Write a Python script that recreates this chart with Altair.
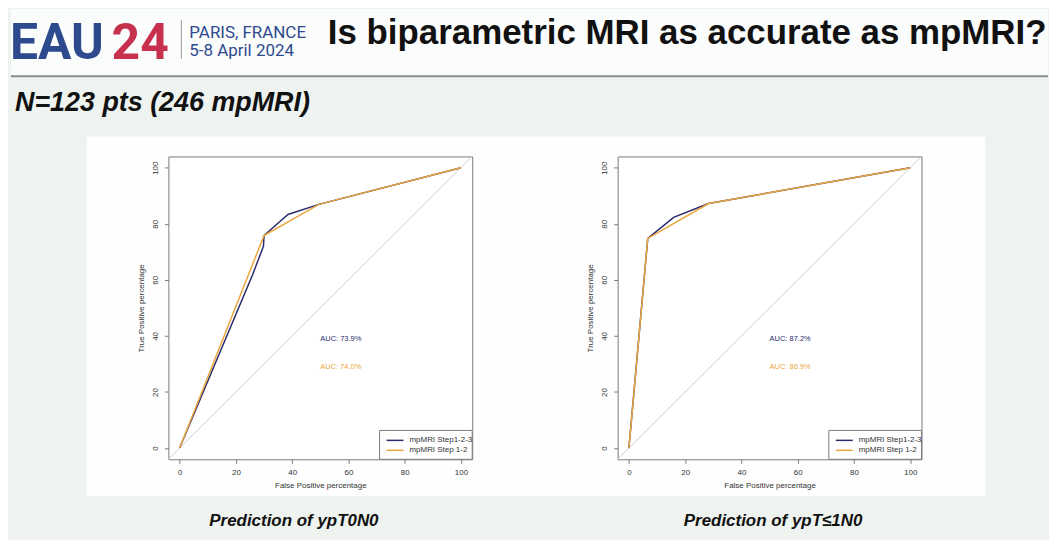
import altair as alt
import pandas as pd

# ---------------- data ----------------
S123 = "mpMRI Step1-2-3"
S12 = "mpMRI Step 1-2"

# Left panel: Prediction of ypT0N0
left_s123_fpr = [0, 26, 29.8, 30, 38.5, 49.5, 100]
left_s123_tpr = [0, 62, 72, 75.8, 83.3, 86.9, 100]
left_s12_fpr = [0, 30, 49.5, 100]
left_s12_tpr = [0, 75.8, 86.9, 100]
left_auc = ["AUC: 73.9%", "AUC: 74.0%"]

# Right panel: Prediction of ypT<=1N0
right_s123_fpr = [0, 6.7, 15.9, 28.3, 100]
right_s123_tpr = [0, 74.8, 82.3, 87.2, 100]
right_s12_fpr = [0, 6.7, 28.3, 100]
right_s12_tpr = [0, 74.8, 87.2, 100]
right_auc = ["AUC: 87.2%", "AUC: 86.9%"]

auc_x = [50, 50]
auc_y = [39, 29]
ticks = [0, 20, 40, 60, 80, 100]
diag = [-4, 104]

captions = ["Prediction of ypT0N0", "Prediction of ypT\u22641N0"]

# ---------------- style ----------------
F = "Liberation Sans"
NAVY = "#2a2b6c"
ORANGE = "#eaa63e"
FRAME = "#7a7a7a"
TXT = "#333333"
one = pd.DataFrame({"k": [0]})

xs = alt.Scale(domain=[-4, 104], nice=False, zero=False)
ys = alt.Scale(domain=[-4, 104], nice=False, zero=False)
xaxis = alt.Axis(values=ticks, domain=False, grid=False, tickSize=4, tickColor=FRAME,
                 labelFont=F, labelFontSize=8, labelColor=TXT, labelPadding=5,
                 labelFlush=False, labelOverlap=False,
                 title="False Positive percentage", titleFont=F, titleFontSize=8,
                 titleFontWeight="normal", titleColor=TXT, titlePadding=5)
yaxis = alt.Axis(values=ticks, domain=False, grid=False, tickSize=4, tickColor=FRAME,
                 labelFont=F, labelFontSize=8, labelColor=TXT, labelPadding=5,
                 labelAngle=270, labelAlign="center", labelBaseline="bottom",
                 labelFlush=False, labelOverlap=False,
                 title="True Positive percentage", titleFont=F, titleFontSize=8,
                 titleFontWeight="normal", titleColor=TXT, titlePadding=6)
X = alt.X("fpr:Q", scale=xs, axis=xaxis)
Y = alt.Y("tpr:Q", scale=ys, axis=yaxis)


def roc_panel(f1, t1, f2, t2, aucs):
    d1 = pd.DataFrame({"fpr": f1, "tpr": t1, "i": list(range(len(f1)))})
    d2 = pd.DataFrame({"fpr": f2, "tpr": t2, "i": list(range(len(f2)))})
    dd = pd.DataFrame({"fpr": diag, "tpr": diag, "i": [0, 1]})
    diag_l = alt.Chart(dd).mark_line(color="#d0d0d0", strokeWidth=1).encode(x=X, y=Y, order="i:Q")
    l1 = alt.Chart(d1).mark_line(color=NAVY, strokeWidth=1.5).encode(x=X, y=Y, order="i:Q")
    l2 = alt.Chart(d2).mark_line(color=ORANGE, strokeWidth=1.5).encode(x=X, y=Y, order="i:Q")
    a1 = alt.Chart(pd.DataFrame({"fpr": [auc_x[0]], "tpr": [auc_y[0]], "t": [aucs[0]]})).mark_text(
        align="left", baseline="middle", font=F, fontSize=7.5, color=NAVY).encode(x=X, y=Y, text="t:N")
    a2 = alt.Chart(pd.DataFrame({"fpr": [auc_x[1]], "tpr": [auc_y[1]], "t": [aucs[1]]})).mark_text(
        align="left", baseline="middle", font=F, fontSize=7.5, color=ORANGE).encode(x=X, y=Y, text="t:N")
    # legend box (manual, R style)
    box = alt.Chart(one).mark_rect(fill="white", stroke=FRAME, strokeWidth=1).encode(
        x=alt.value(212), x2=alt.value(305), y=alt.value(275), y2=alt.value(304))
    r1 = alt.Chart(one).mark_rule(color=NAVY, strokeWidth=1.5).encode(
        x=alt.value(219), x2=alt.value(236), y=alt.value(285))
    r2 = alt.Chart(one).mark_rule(color=ORANGE, strokeWidth=1.5).encode(
        x=alt.value(219), x2=alt.value(236), y=alt.value(295))
    t1_ = alt.Chart(one).mark_text(text=S123, align="left", baseline="middle", font=F,
                                   fontSize=8, color=TXT).encode(x=alt.value(242), y=alt.value(285))
    t2_ = alt.Chart(one).mark_text(text=S12, align="left", baseline="middle", font=F,
                                   fontSize=8, color=TXT).encode(x=alt.value(242), y=alt.value(295))
    return alt.layer(diag_l, l1, l2, a1, a2, box, r1, r2, t1_, t2_).properties(
        width=305, height=304,
        view=alt.ViewBackground(stroke=FRAME, strokeWidth=1, fill="white"))


left = roc_panel(left_s123_fpr, left_s123_tpr, left_s12_fpr, left_s12_tpr, left_auc)
right = roc_panel(right_s123_fpr, right_s123_tpr, right_s12_fpr, right_s12_tpr, right_auc)

spacer = alt.Chart(one).mark_point(opacity=0).encode(
    x=alt.value(0), y=alt.value(0)).properties(width=12, height=304)

# ---------------- slide header / decorations ----------------
BLUE = "#2e4a8e"
RED = "#c8314e"
BG = "#eef3f0"


def txt(s, x, y, **kw):
    return alt.Chart(one).mark_text(text=s, baseline="alphabetic", **kw).encode(
        x=alt.value(x), y=alt.value(y))


bg = alt.Chart(one).mark_rect(fill=BG).encode(
    x=alt.value(0), x2=alt.value(1041), y=alt.value(0), y2=alt.value(532))
band = alt.Chart(one).mark_rect(fill="#fbfcfc").encode(
    x=alt.value(0), x2=alt.value(1041), y=alt.value(0), y2=alt.value(67))
sep = alt.Chart(one).mark_rule(color="#878c92", strokeWidth=2).encode(
    x=alt.value(0), x2=alt.value(1041), y=alt.value(67.5))
wbox = alt.Chart(one).mark_rect(fill="#fdfefd").encode(
    x=alt.value(76), x2=alt.value(978), y=alt.value(128), y2=alt.value(489))
vbar = alt.Chart(one).mark_rule(color="#9a9a9a", strokeWidth=1).encode(
    x=alt.value(171), y=alt.value(11), y2=alt.value(50))

header = alt.layer(
    bg, band, sep, wbox, vbar,
    txt("EAU", -1, 50, align="left", font="Roboto", fontWeight="bold", fontSize=50, color=BLUE),
    txt("24", 101, 50, align="left", font="Roboto", fontWeight="bold", fontSize=50, color=RED),
    txt("PARIS, FRANCE", 179, 29, align="left", font="Roboto", fontSize=17, color=BLUE),
    txt("5-8 April 2024", 179, 47, align="left", font="Roboto", fontSize=17, color=BLUE),
    txt("Is biparametric MRI as accurate as mpMRI?", 318, 35, align="left", font=F,
        fontWeight="bold", fontSize=35, color="#111111"),
    txt("N=123 pts (246 mpMRI)", 4, 102, align="left", font=F, fontWeight="bold",
        fontStyle="italic", fontSize=27, color="#111111"),
    txt(captions[0], 284, 519, align="center", font=F, fontWeight="bold",
        fontStyle="italic", fontSize=17, color="#111111"),
    txt(captions[1], 765, 519, align="center", font=F, fontWeight="bold",
        fontStyle="italic", fontSize=17, color="#111111"),
).properties(width=1041, height=148)

row = alt.hconcat(spacer, left, right, spacing=146, bounds="flush")

chart = alt.vconcat(header, row, spacing=0, bounds="flush", padding=0).configure(
    background=BG).configure_view(stroke=None)

chart.save("out.html", embed_options={"renderer": "svg", "actions": False})
